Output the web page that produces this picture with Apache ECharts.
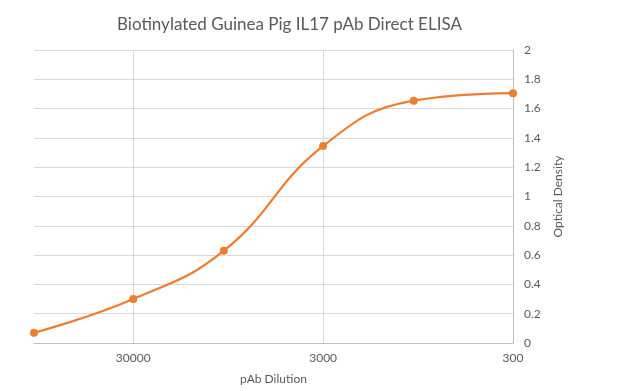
<!DOCTYPE html>
<html><head><meta charset="utf-8">
<script src="https://cdn.jsdelivr.net/npm/echarts@6/dist/echarts.min.js"></script>
<style>html,body{margin:0;padding:0;background:#fff}#c{width:630px;height:391px}</style>
</head><body><div id="c"></div>
<script>
const dilutions = [100000, 30000, 10000, 3000, 1000, 300];
const opticalDensity = [0.07, 0.30, 0.63, 1.345, 1.654, 1.705];
const xTickLabels = [30000, 3000, 300];
const baseDilution = 300;
const maxDilution = 100000;

const toU = d => Math.log10(d / baseDilution);
const points = dilutions.map((d, i) => [toU(d), opticalDensity[i]]);
const FONT = 'Lato, "Open Sans", sans-serif';
const gray = '#595959';

const chart = echarts.init(document.getElementById('c'), null, {renderer: 'canvas'});
chart.setOption({
  animation: false,
  title: {
    text: 'Biotinylated Guinea Pig IL17 pAb Direct ELISA',
    left: 112, top: 11,
    textStyle: {fontFamily: FONT, fontSize: 17, fontWeight: 'normal', color: gray}
  },
  grid: {left: 34, right: 117, top: 50, bottom: 48, containLabel: false},
  xAxis: {
    type: 'value', inverse: true, min: 0, max: toU(maxDilution), interval: 1,
    name: 'pAb Dilution', nameLocation: 'middle', nameGap: 30,
    nameTextStyle: {fontFamily: FONT, fontSize: 12, color: gray},
    axisLine: {show: true, lineStyle: {color: '#bfbfbf', width: 1}},
    axisTick: {show: false},
    axisLabel: {
      fontFamily: FONT, fontSize: 12, color: gray, margin: 9,
      formatter: v => {
        const d = Math.round(baseDilution * Math.pow(10, v));
        return xTickLabels.includes(d) && Math.abs(v - Math.round(v)) < 1e-6 ? String(d) : '';
      }
    },
    splitLine: {show: true, showMinLine: false, showMaxLine: false, lineStyle: {color: '#d9d9d9', width: 1}}
  },
  yAxis: {
    type: 'value', position: 'right', min: 0, max: 2, interval: 0.2,
    name: 'Optical Density', nameLocation: 'middle', nameGap: 36, nameRotate: 90,
    nameTextStyle: {fontFamily: FONT, fontSize: 12, color: gray},
    axisLine: {show: true, lineStyle: {color: '#bfbfbf', width: 1}},
    axisTick: {show: false},
    axisLabel: {fontFamily: FONT, fontSize: 12, color: gray, margin: 11,
      formatter: v => String(Math.round(v * 10) / 10)},
    splitLine: {show: true, lineStyle: {color: '#d9d9d9', width: 1}}
  },
  series: [{
    type: 'line', data: points, smooth: 0.45,
    symbol: 'circle', symbolSize: 8,
    lineStyle: {color: '#ED7D31', width: 2.25},
    itemStyle: {color: '#ED7D31'}
  }]
});
</script></body></html>
